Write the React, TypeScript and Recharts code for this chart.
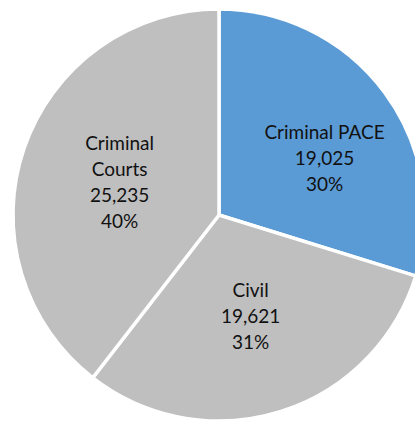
import { PieChart, Pie, Cell } from 'recharts';

const categories = ['Criminal PACE', 'Civil', 'Criminal Courts'];
const values = [19025, 19621, 25235];
const percents = ['30%', '31%', '40%'];
const labelLines = [['Criminal PACE'], ['Civil'], ['Criminal', 'Courts']];
const colors = ['#5B9BD5', '#BFBFBF', '#BFBFBF'];

const data = categories.map((name, i) => ({ name, value: values[i] }));

const RAD = Math.PI / 180;

const renderLabel = (props: any) => {
  const { cx, cy, midAngle, outerRadius, index } = props;
  const r = outerRadius * 0.51;
  let x = cx + r * Math.cos(-midAngle * RAD);
  let y = cy + r * Math.sin(-midAngle * RAD);
  // keep the first label clear of the clipped right edge
  if (index === 0) {
    x += 21;
    y += 4;
  }
  const lines = [...labelLines[index], values[index].toLocaleString('en-US'), percents[index]];
  const lh = 26;
  const top = y - ((lines.length - 1) * lh) / 2;
  return (
    <text
      x={x}
      y={top}
      textAnchor="middle"
      dominantBaseline="central"
      fill="#111"
      fontSize={19}
      fontFamily="Lato, 'Open Sans', sans-serif"
    >
      {lines.map((l, i) => (
        <tspan key={i} x={x} y={top + i * lh}>
          {l}
        </tspan>
      ))}
    </text>
  );
};

export default function App() {
  return (
    <div style={{ position: 'fixed', top: 0, left: 0, width: 415, height: 421, background: '#fff' }}>
      <PieChart width={415} height={421} margin={{ top: 0, right: 0, bottom: 0, left: 0 }}>
        <Pie
          data={data}
          dataKey="value"
          nameKey="name"
          cx={219}
          cy={215}
          outerRadius={206}
          startAngle={90}
          endAngle={-270}
          stroke="#ffffff"
          strokeWidth={3.5}
          label={renderLabel}
          labelLine={false}
          isAnimationActive={false}
        >
          {data.map((d, i) => (
            <Cell key={d.name} fill={colors[i]} />
          ))}
        </Pie>
      </PieChart>
    </div>
  );
}
